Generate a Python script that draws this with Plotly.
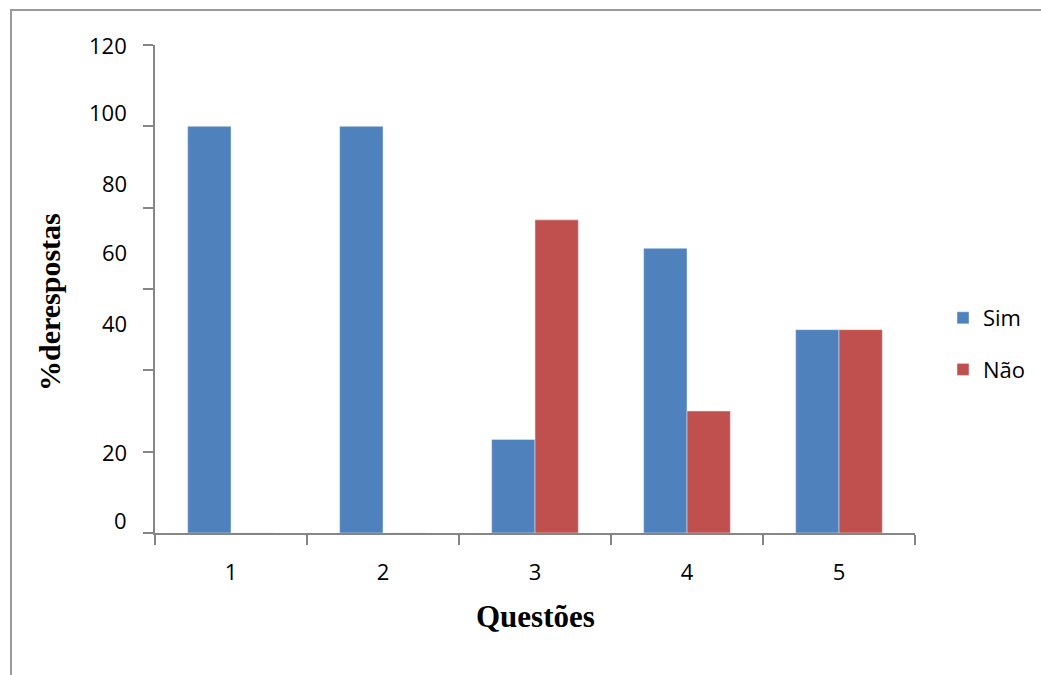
import plotly.graph_objects as go

# Survey results: share of answers per question
questoes = ["1", "2", "3", "4", "5"]
sim = [100, 100, 23, 70, 50]
nao = [0, 0, 77, 30, 50]

# Y-axis label text and the (slightly offset) values where each label sits
y_tick_vals = [0, 20, 40, 60, 80, 100, 120]
y_label_text = ["0", "20", "40", "60", "80", "100", "120"]
y_label_pos = [3.2, 20, 51.6, 69, 86, 103.5, 120]

W, H = 1041, 675
L, R, T, B = 155, 126, 45, 142
PW, PH = W - L - R, H - T - B


def px_x(px):
    return (px - L) / PW


def px_y(py):
    return (H - B - py) / PH


AXIS = "#868686"
LABEL_FONT = dict(family="Open Sans", size=22, color="black")
TITLE_FONT = dict(family="Liberation Serif", size=30, color="black")
QTITLE_FONT = dict(family="Liberation Serif", size=31, color="black")

fig = go.Figure()
fig.add_trace(go.Bar(x=questoes, y=sim, name="Sim", marker_color="#4F81BD",
                     legendgroup="sim"))
fig.add_trace(go.Bar(x=questoes, y=nao, name="Não", marker_color="#C0504D",
                     legendgroup="nao"))

annotations = []
for txt, pos in zip(y_label_text, y_label_pos):
    annotations.append(dict(x=0, xref="paper", y=pos, yref="y", text=txt,
                            showarrow=False, xanchor="right", yanchor="middle",
                            xshift=-26, font=LABEL_FONT))

annotations.append(dict(x=px_x(49), xref="paper", y=px_y(302), yref="paper",
                        text="<b>%derespostas</b>", textangle=-90, showarrow=False,
                        xanchor="center", yanchor="middle", font=TITLE_FONT))
annotations.append(dict(x=px_x(535), xref="paper", y=px_y(616), yref="paper",
                        text="<b>Questões</b>", showarrow=False,
                        xanchor="center", yanchor="middle", font=QTITLE_FONT))

# Outer frame of the chart area (runs past the right and bottom edges)
shapes = [dict(type="rect", xref="paper", yref="paper",
               x0=px_x(11), y0=px_y(10), x1=px_x(W + 20), y1=px_y(H + 20),
               line=dict(color="#9a9a9a", width=2), fillcolor="rgba(0,0,0,0)",
               layer="below")]

fig.update_layout(
    width=W, height=H,
    margin=dict(l=L, r=R, t=T, b=B, autoexpand=False),
    paper_bgcolor="white", plot_bgcolor="white",
    barmode="group", bargap=0.43, bargroupgap=0,
    showlegend=True,
    legend=dict(x=px_x(943), xanchor="left", y=px_y(297), yanchor="top",
                font=LABEL_FONT, tracegroupgap=20, traceorder="grouped",
                bgcolor="rgba(0,0,0,0)"),
    annotations=annotations,
    shapes=shapes,
)

fig.update_xaxes(type="category", tickson="boundaries", ticks="outside",
                 ticklen=10, tickwidth=1.5, tickcolor=AXIS, showline=True,
                 linecolor=AXIS, linewidth=1.5, showgrid=False,
                 tickfont=LABEL_FONT, ticklabelstandoff=19)
fig.update_yaxes(range=[0, 120], tickvals=y_tick_vals, showticklabels=False,
                 ticks="outside", ticklen=10, tickwidth=1.5, tickcolor=AXIS,
                 showline=True, linecolor=AXIS, linewidth=1.5, showgrid=False,
                 zeroline=False)

fig.write_html("out.html")
